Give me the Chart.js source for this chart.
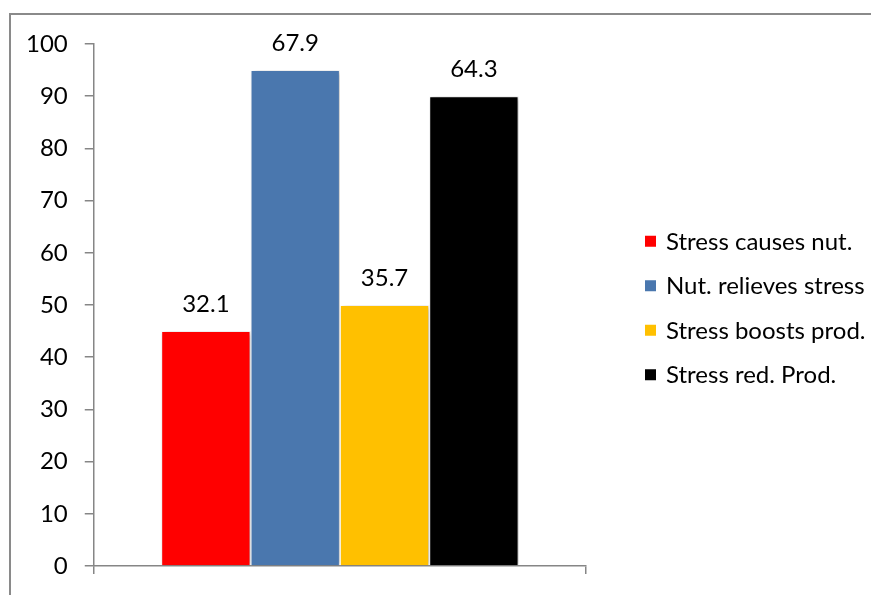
<!DOCTYPE html>
<html>
<head>
<meta charset="utf-8">
<script src="https://cdn.jsdelivr.net/npm/chart.js@4.4.1/dist/chart.umd.min.js"></script>
<style>
    html, body { margin: 0; padding: 0; background: #fff; }
    canvas { display: block; }
</style>
</head>
<body>
<canvas id="chart1" width="871" height="595"></canvas>
<script>
// answers per statement (two yes/no style pairs)
var seriesNames = ['Stress causes nut.', 'Nut. relieves stress', 'Stress boosts prod.', 'Stress red. Prod.'];
var counts = [45, 95, 50, 90];
var colors = ['#ff0000', '#4a77ae', '#ffc000', '#000000'];
var yTicks = [0, 10, 20, 30, 40, 50, 60, 70, 80, 90, 100];

var FONT = 'Lato, "Liberation Sans", sans-serif';
var FONT_SIZE = 24;

// percent of each pair (0-1, 2-3), shown above the bars
function shareOf(i) {
    var other = counts[i ^ 1];
    return (counts[i] / (counts[i] + other) * 100).toFixed(1);
}

var frame = {
    id: 'frame',
    beforeDraw: function (chart) {
        var ctx = chart.ctx;
        ctx.save();
        ctx.strokeStyle = '#8a8a8a';
        ctx.lineWidth = 2;
        ctx.beginPath();
        ctx.moveTo(10, 600);
        ctx.lineTo(10, 14);
        ctx.lineTo(880, 14);
        ctx.stroke();
        ctx.restore();
    }
};

// soft drop shadow under the bars
var barShadow = {
    id: 'barShadow',
    beforeDatasetsDraw: function (chart) {
        var ctx = chart.ctx;
        ctx.save();
        ctx.shadowColor = 'rgba(0, 0, 0, 0.3)';
        ctx.shadowBlur = 5;
        ctx.shadowOffsetX = 2;
        ctx.shadowOffsetY = 1;
    },
    afterDatasetsDraw: function (chart) {
        chart.ctx.restore();
    }
};

var valueLabels = {
    id: 'valueLabels',
    afterDatasetsDraw: function (chart) {
        var ctx = chart.ctx;
        ctx.save();
        ctx.font = FONT_SIZE + 'px ' + FONT;
        ctx.fillStyle = '#000';
        ctx.textAlign = 'center';
        ctx.textBaseline = 'alphabetic';
        chart.data.datasets.forEach(function (ds, i) {
            var bar = chart.getDatasetMeta(i).data[0];
            ctx.fillText(shareOf(i), bar.x, bar.y - 19);
        });
        ctx.restore();
    }
};

var sideLegend = {
    id: 'sideLegend',
    afterDraw: function (chart) {
        var ctx = chart.ctx;
        var area = chart.chartArea;
        var mid = (area.top + area.bottom) / 2 + 3;
        ctx.save();
        ctx.font = FONT_SIZE + 'px ' + FONT;
        ctx.textBaseline = 'middle';
        ctx.textAlign = 'left';
        chart.data.datasets.forEach(function (ds, i) {
            var y = mid + (i - 1.5) * 44.5;
            ctx.fillStyle = ds.backgroundColor;
            ctx.fillRect(645, y - 5.5, 11, 11);
            ctx.fillStyle = '#000';
            ctx.fillText(ds.label, 666, y + 1);
        });
        ctx.restore();
    }
};

var ctx1 = document.getElementById('chart1').getContext('2d');
var chart1 = new Chart(ctx1, {
    type: 'bar',
    data: {
        labels: [''],
        datasets: seriesNames.map(function (name, i) {
            return {
                label: name,
                data: [counts[i]],
                backgroundColor: colors[i],
                borderColor: '#ffffff',
                borderWidth: 1,
                categoryPercentage: 0.726,
                barPercentage: 1
            };
        })
    },
    options: {
        responsive: false,
        animation: false,
        layout: { padding: { left: 9, top: 44, right: 285, bottom: 18 } },
        plugins: {
            legend: { display: false },
            tooltip: { enabled: false }
        },
        scales: {
            x: {
                grid: { drawOnChartArea: false, color: '#868686', lineWidth: 1.5, tickLength: 8 },
                border: { color: '#868686', width: 1.5 },
                ticks: { display: false }
            },
            y: {
                min: 0,
                max: 100,
                afterBuildTicks: function (axis) {
                    axis.ticks = yTicks.map(function (v) { return { value: v }; });
                },
                grid: { drawOnChartArea: false, color: '#868686', lineWidth: 1.5, tickLength: 9 },
                border: { color: '#868686', width: 1.5 },
                ticks: {
                    padding: 17,
                    color: '#000',
                    font: { family: FONT, size: FONT_SIZE, lineHeight: 1 }
                }
            }
        }
    },
    plugins: [frame, barShadow, valueLabels, sideLegend]
});
</script>
</body>
</html>
